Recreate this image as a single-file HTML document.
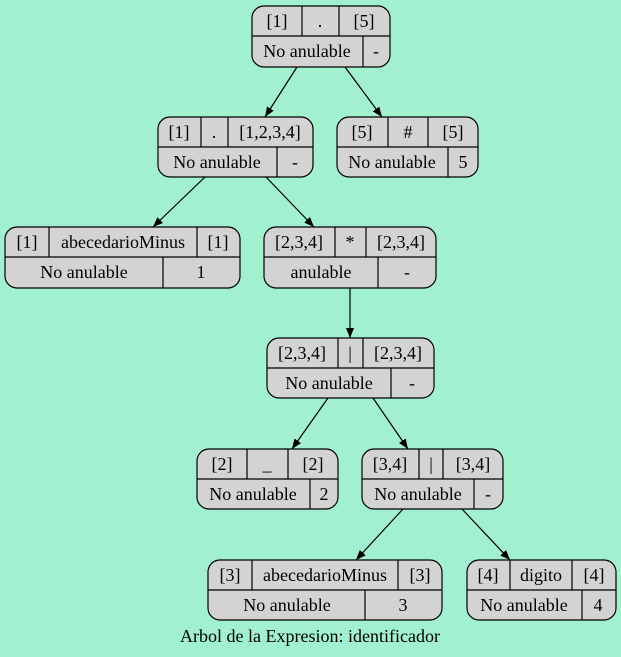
<!DOCTYPE html>
<html><head><meta charset="utf-8"><style>
html,body{margin:0;padding:0;background:#a1f0cf;}
svg{display:block;}
text{font-family:"Liberation Serif",serif;font-size:18px;fill:#000;text-anchor:middle;}
.n rect{fill:#d3d3d3;stroke:#000;stroke-width:1.2;}
.n line{stroke:#000;stroke-width:1.2;}
.e{stroke:#000;stroke-width:1.2;fill:none;}
</style></head><body>
<svg width="621" height="657" viewBox="0 0 621 657">
<defs><marker id="m" viewBox="0 0 10 8" refX="10" refY="4" markerWidth="10" markerHeight="8" markerUnits="userSpaceOnUse" orient="auto"><path d="M0,0L10,4L0,8z" fill="#000"/></marker></defs>
<g class="e" marker-end="url(#m)">
<line x1="297" y1="67" x2="265" y2="117"/>
<line x1="345" y1="67" x2="382" y2="117"/>
<line x1="205" y1="177" x2="153" y2="227"/>
<line x1="266" y1="177" x2="314" y2="227"/>
<line x1="350" y1="288" x2="350" y2="338"/>
<line x1="328" y1="398" x2="292" y2="449"/>
<line x1="373" y1="398" x2="408" y2="449"/>
<line x1="403" y1="509" x2="356" y2="560"/>
<line x1="462" y1="509" x2="510" y2="560"/>
</g>
<g class="n"><rect x="252" y="6" width="138" height="61" rx="12"/>
<line x1="252" y1="36" x2="390" y2="36"/><line x1="302" y1="6" x2="302" y2="36"/><line x1="339" y1="6" x2="339" y2="36"/><line x1="363" y1="36" x2="363" y2="67"/>
<text x="277" y="27">[1]</text><text x="320" y="27">.</text><text x="364" y="27">[5]</text>
<text x="307" y="57">No anulable</text><text x="376" y="57">-</text></g>
<g class="n"><rect x="158" y="117" width="155" height="60" rx="12"/>
<line x1="158" y1="147" x2="313" y2="147"/><line x1="201" y1="117" x2="201" y2="147"/><line x1="228" y1="117" x2="228" y2="147"/><line x1="277" y1="147" x2="277" y2="177"/>
<text x="179" y="138">[1]</text><text x="214" y="138">.</text><text x="270" y="138">[1,2,3,4]</text>
<text x="217" y="168">No anulable</text><text x="295" y="168">-</text></g>
<g class="n"><rect x="337" y="117" width="141" height="60" rx="12"/>
<line x1="337" y1="147" x2="478" y2="147"/><line x1="388" y1="117" x2="388" y2="147"/><line x1="428" y1="117" x2="428" y2="147"/><line x1="448" y1="147" x2="448" y2="177"/>
<text x="362" y="138">[5]</text><text x="408" y="138">#</text><text x="453" y="138">[5]</text>
<text x="392" y="168">No anulable</text><text x="463" y="168">5</text></g>
<g class="n"><rect x="5" y="227" width="235" height="61" rx="12"/>
<line x1="5" y1="257" x2="240" y2="257"/><line x1="49" y1="227" x2="49" y2="257"/><line x1="197" y1="227" x2="197" y2="257"/><line x1="163" y1="257" x2="163" y2="288"/>
<text x="27" y="248">[1]</text><text x="123" y="248">abecedarioMinus</text><text x="218" y="248">[1]</text>
<text x="84" y="278">No anulable</text><text x="201" y="278">1</text></g>
<g class="n"><rect x="264" y="227" width="172" height="61" rx="12"/>
<line x1="264" y1="257" x2="436" y2="257"/><line x1="335" y1="227" x2="335" y2="257"/><line x1="366" y1="227" x2="366" y2="257"/><line x1="378" y1="257" x2="378" y2="288"/>
<text x="299" y="248">[2,3,4]</text><text x="350" y="248">*</text><text x="401" y="248">[2,3,4]</text>
<text x="321" y="278">anulable</text><text x="407" y="278">-</text></g>
<g class="n"><rect x="267" y="338" width="167" height="60" rx="12"/>
<line x1="267" y1="368" x2="434" y2="368"/><line x1="338" y1="338" x2="338" y2="368"/><line x1="363" y1="338" x2="363" y2="368"/><line x1="391" y1="368" x2="391" y2="398"/>
<text x="302" y="359">[2,3,4]</text><text x="350" y="359">|</text><text x="398" y="359">[2,3,4]</text>
<text x="329" y="389">No anulable</text><text x="412" y="389">-</text></g>
<g class="n"><rect x="197" y="449" width="141" height="60" rx="12"/>
<line x1="197" y1="479" x2="338" y2="479"/><line x1="247" y1="449" x2="247" y2="479"/><line x1="288" y1="449" x2="288" y2="479"/><line x1="310" y1="479" x2="310" y2="509"/>
<text x="222" y="470">[2]</text><text x="267" y="470">_</text><text x="313" y="470">[2]</text>
<text x="253" y="500">No anulable</text><text x="324" y="500">2</text></g>
<g class="n"><rect x="362" y="449" width="141" height="60" rx="12"/>
<line x1="362" y1="479" x2="503" y2="479"/><line x1="419" y1="449" x2="419" y2="479"/><line x1="443" y1="449" x2="443" y2="479"/><line x1="474" y1="479" x2="474" y2="509"/>
<text x="390" y="470">[3,4]</text><text x="431" y="470">|</text><text x="473" y="470">[3,4]</text>
<text x="418" y="500">No anulable</text><text x="488" y="500">-</text></g>
<g class="n"><rect x="208" y="560" width="234" height="60" rx="12"/>
<line x1="208" y1="590" x2="442" y2="590"/><line x1="252" y1="560" x2="252" y2="590"/><line x1="398" y1="560" x2="398" y2="590"/><line x1="365" y1="590" x2="365" y2="620"/>
<text x="230" y="581">[3]</text><text x="325" y="581">abecedarioMinus</text><text x="420" y="581">[3]</text>
<text x="287" y="611">No anulable</text><text x="403" y="611">3</text></g>
<g class="n"><rect x="467" y="560" width="149" height="60" rx="12"/>
<line x1="467" y1="590" x2="616" y2="590"/><line x1="510" y1="560" x2="510" y2="590"/><line x1="572" y1="560" x2="572" y2="590"/><line x1="582" y1="590" x2="582" y2="620"/>
<text x="488" y="581">[4]</text><text x="541" y="581">digito</text><text x="594" y="581">[4]</text>
<text x="524" y="611">No anulable</text><text x="598" y="611">4</text></g>
<text x="310" y="642">Arbol de la Expresion: identificador</text>
</svg>
</body></html>
